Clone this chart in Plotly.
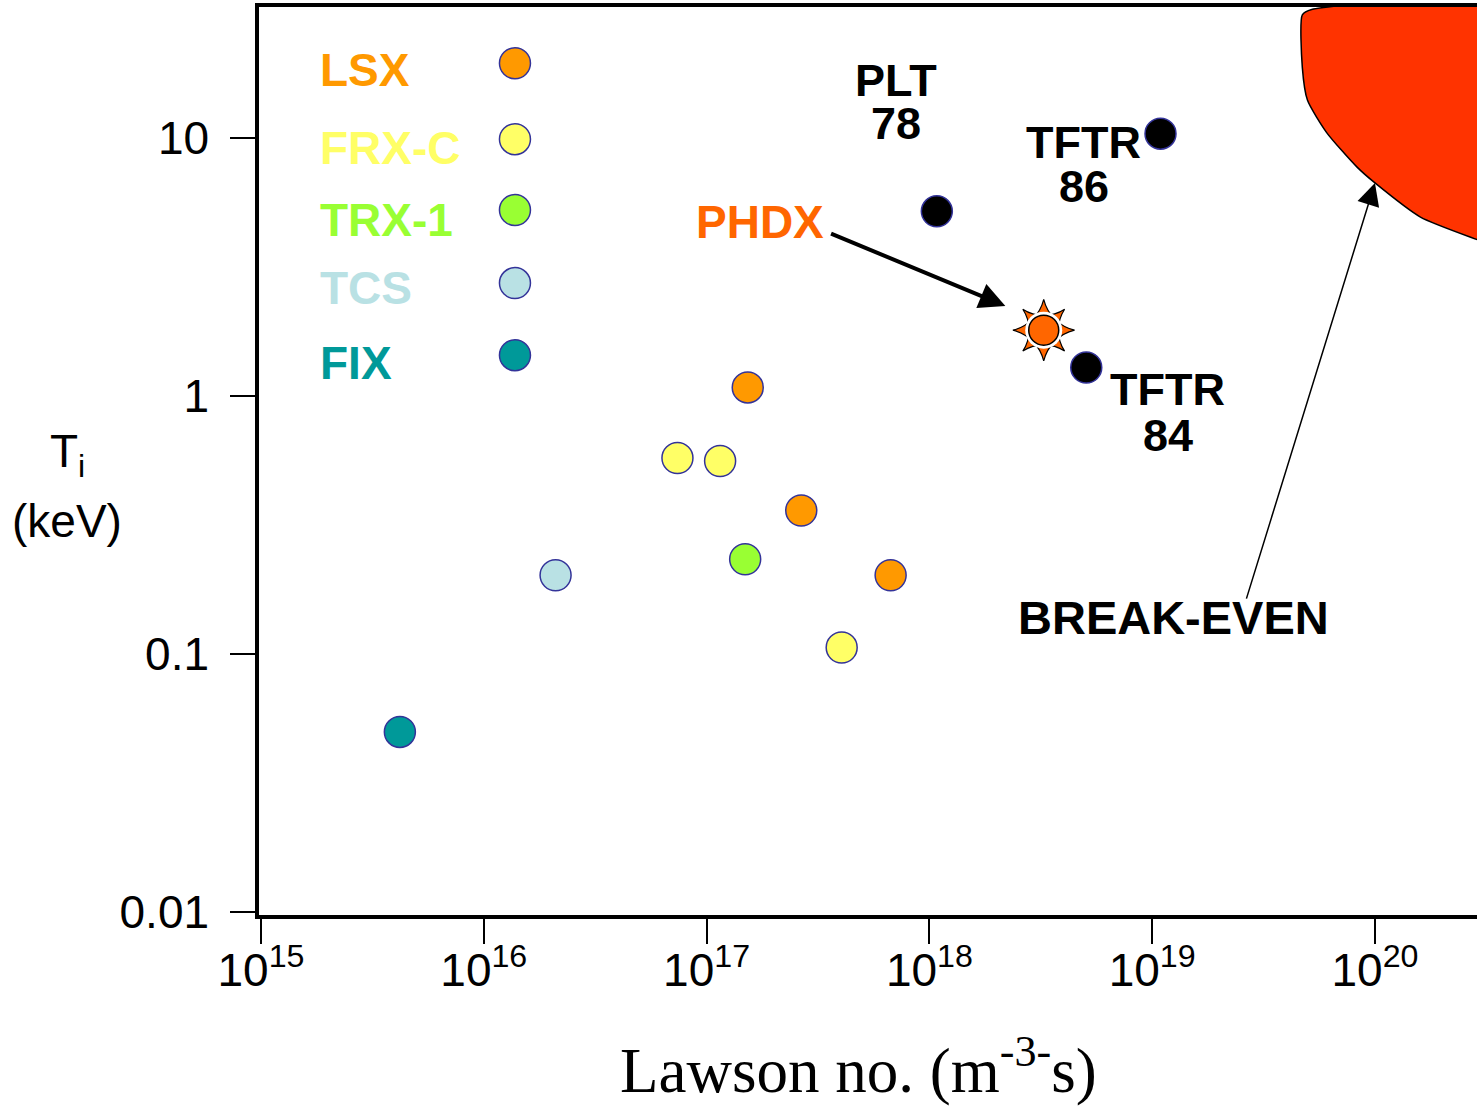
import numpy as np
import plotly.graph_objects as go

# ---------------- data ----------------
series_names = ["LSX", "FRX-C", "TRX-1", "TCS", "FIX"]
series_colors = ["#FF9900", "#FFFF66", "#99FF33", "#B9E1E4", "#009999"]

lsx_lawson = [1.53e17, 2.66e17, 6.7e17]
lsx_T = [1.08, 0.36, 0.202]
frxc_lawson = [7.4e16, 1.15e17, 4.04e17]
frxc_T = [0.575, 0.56, 0.106]
trx1_lawson = [1.49e17]
trx1_T = [0.233]
tcs_lawson = [2.1e16]
tcs_T = [0.202]
fix_lawson = [4.2e15]
fix_T = [0.0499]

key_lawson = [1.38e16, 1.38e16, 1.38e16, 1.38e16, 1.38e16]
key_T = [19.5, 9.9, 5.26, 2.74, 1.44]

tokamak_names = ["PLT 78", "TFTR 86", "TFTR 84"]
tokamak_lawson = [1.08e18, 1.09e19, 5.06e18]
tokamak_T = [5.2, 10.4, 1.29]

phdx_lawson = [3.26e18]
phdx_T = [1.80]

breakeven_lawson = [5.2e19, 4.72e19, 4.72e19, 4.98e19, 6.07e19, 8.29e19,
                    1.0e20, 1.60e20, 2.90e20, 4.54e20, 4.54e20, 5.2e19]
breakeven_T = [31.5, 30.0, 18.8, 14.0, 10.5, 7.73,
               6.70, 4.94, 4.03, 3.52, 31.5, 31.5]

x_tick_vals = [1e15, 1e16, 1e17, 1e18, 1e19, 1e20]
x_tick_text = ["10<sup>15</sup>", "10<sup>16</sup>", "10<sup>17</sup>",
               "10<sup>18</sup>", "10<sup>19</sup>", "10<sup>20</sup>"]
y_tick_vals = [0.01, 0.1, 1, 10]
y_tick_text = ["0.01", "0.1", "1", "10"]

# ---------------- figure ----------------
W, H = 1477, 1109
ML, MR, MT, MB = 259, 0, 7, 194
PW, PH = W - ML - MR, H - MT - MB


def px(x):
    return (x - ML) / PW


def py(y):
    return (H - MB - y) / PH


fig = go.Figure()

# break-even region
fig.add_trace(go.Scatter(x=breakeven_lawson, y=breakeven_T, mode="lines",
                         fill="toself", fillcolor="#FF3300",
                         line=dict(color="black", width=1.5, shape="spline", smoothing=0.6),
                         hoverinfo="skip", showlegend=False))

marker_line = dict(color="#333399", width=1.5)
series_x = [lsx_lawson, frxc_lawson, trx1_lawson, tcs_lawson, fix_lawson]
series_y = [lsx_T, frxc_T, trx1_T, tcs_T, fix_T]
for name, col, xs, ys in zip(series_names, series_colors, series_x, series_y):
    fig.add_trace(go.Scatter(x=xs, y=ys, mode="markers", name=name,
                             marker=dict(size=31, color=col, line=marker_line),
                             showlegend=False))

# legend keys
fig.add_trace(go.Scatter(x=key_lawson, y=key_T, mode="markers",
                         marker=dict(size=31, color=series_colors, line=marker_line),
                         showlegend=False, hoverinfo="skip"))

# tokamaks
fig.add_trace(go.Scatter(x=tokamak_lawson, y=tokamak_T, mode="markers",
                         text=tokamak_names,
                         marker=dict(size=31, color="black", line=marker_line),
                         showlegend=False))

# PHDX sun
fig.add_trace(go.Scatter(x=phdx_lawson, y=phdx_T, mode="markers",
                         marker=dict(symbol="star-diamond", size=44, color="#FF6600",
                                     line=dict(color="black", width=1.2)),
                         showlegend=False, hoverinfo="skip"))
fig.add_trace(go.Scatter(x=phdx_lawson, y=phdx_T, mode="markers",
                         marker=dict(symbol="star-square", size=38, color="#FF6600",
                                     line=dict(color="black", width=1.2)),
                         showlegend=False, hoverinfo="skip"))
fig.add_trace(go.Scatter(x=phdx_lawson, y=phdx_T, mode="markers",
                         marker=dict(symbol="circle", size=37, color="white",
                                     line=dict(width=0)),
                         showlegend=False, hoverinfo="skip"))
fig.add_trace(go.Scatter(x=phdx_lawson, y=phdx_T, mode="markers", name="PHDX",
                         marker=dict(symbol="circle", size=30, color="#FF6600",
                                     line=dict(color="black", width=1.5)),
                         showlegend=False))

SANS = "Liberation Sans, Arial, sans-serif"
ann = []

# legend labels
legend_y_px = [70, 148, 220, 288, 363]
for name, col, ypx in zip(series_names, series_colors, legend_y_px):
    ann.append(dict(x=px(318), y=py(ypx), xref="paper", yref="paper",
                    xanchor="left", yanchor="middle", showarrow=False,
                    text="<b>%s</b>" % name, font=dict(family=SANS, size=46, color=col)))

# point labels
labels = [("PLT", 896, 80), ("78", 896, 124), ("TFTR", 1083, 142), ("86", 1084, 186),
          ("TFTR", 1167, 389), ("84", 1168, 436)]
for t, xx, yy in labels:
    ann.append(dict(x=px(xx), y=py(yy), xref="paper", yref="paper",
                    xanchor="center", yanchor="middle", showarrow=False,
                    text="<b>%s</b>" % t, font=dict(family=SANS, size=45, color="black")))
ann.append(dict(x=px(1173), y=py(617), xref="paper", yref="paper",
                xanchor="center", yanchor="middle", showarrow=False,
                text="<b>BREAK-EVEN</b>", font=dict(family=SANS, size=47, color="black")))
ann.append(dict(x=px(760), y=py(222), xref="paper", yref="paper",
                xanchor="center", yanchor="middle", showarrow=False,
                text="<b>PHDX</b>", font=dict(family=SANS, size=46, color="#FF6600")))

# arrows (log10 coordinates on log axes)
ann.append(dict(x=18.341, y=0.349, ax=17.552, ay=0.632, xref="x", yref="y",
                axref="x", ayref="y", text="", showarrow=True, arrowhead=2,
                arrowsize=1.3, arrowwidth=4, arrowcolor="black"))
ann.append(dict(x=20.0, y=0.826, ax=19.421, ay=-0.791, xref="x", yref="y",
                axref="x", ayref="y", text="", showarrow=True, arrowhead=2,
                arrowsize=3, arrowwidth=1.5, arrowcolor="black"))

# axis titles
ann.append(dict(x=px(858), y=py(1066), xref="paper", yref="paper",
                xanchor="center", yanchor="middle", showarrow=False,
                text="Lawson no. (m<sup>-3-</sup>s)",
                font=dict(family="Liberation Serif, Times New Roman, serif", size=63, color="black")))
ann.append(dict(x=px(67), y=py(455), xref="paper", yref="paper",
                xanchor="center", yanchor="middle", showarrow=False,
                text="T<sub>i</sub>", font=dict(family=SANS, size=46, color="black")))
ann.append(dict(x=px(67), y=py(521), xref="paper", yref="paper",
                xanchor="center", yanchor="middle", showarrow=False,
                text="(keV)", font=dict(family=SANS, size=46, color="black")))

fig.update_layout(
    width=W, height=H,
    margin=dict(l=ML, r=MR, t=MT, b=MB),
    paper_bgcolor="white", plot_bgcolor="white",
    annotations=ann, showlegend=False,
)
fig.update_xaxes(type="log", range=[14.991, 20.458], showline=True, linecolor="black",
                 linewidth=3.5, mirror=True, ticks="outside", ticklen=25, tickwidth=1.5,
                 tickcolor="black", tickvals=x_tick_vals, ticktext=x_tick_text,
                 ticklabelstandoff=-13,
                 tickfont=dict(family="Liberation Sans Narrow, Arial Narrow, Liberation Sans, sans-serif",
                               size=46, color="black"),
                 showgrid=False, zeroline=False)
fig.update_yaxes(type="log", range=[-2.0116, 1.508], showline=True, linecolor="black",
                 linewidth=3.5, ticks="outside", ticklen=25, tickwidth=1.5,
                 tickcolor="black", tickvals=y_tick_vals, ticktext=y_tick_text,
                 ticklabelstandoff=12,
                 tickfont=dict(family=SANS, size=46, color="black"),
                 showgrid=False, zeroline=False)

fig.write_html("out.html")
